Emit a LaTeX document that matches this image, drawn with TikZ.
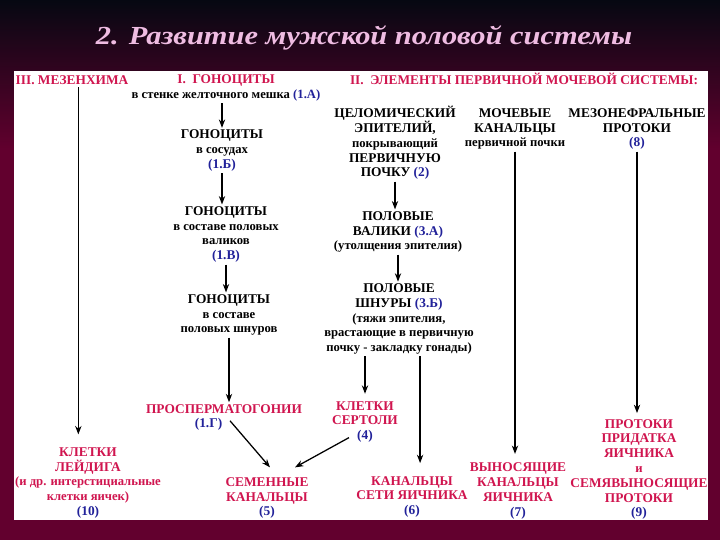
\documentclass[tikz,border=0pt]{standalone}
\usepackage{fontspec}
\setmainfont{Liberation Serif}
\newfontfamily\titlefont[FakeStretch=1.17]{Liberation Serif}
\usetikzlibrary{arrows.meta, calc}
\definecolor{cred}{HTML}{D0154F}
\definecolor{cblue}{HTML}{22229A}
\definecolor{cmaroon}{HTML}{62002E}
\definecolor{cnight}{HTML}{060812}
\definecolor{ctitle}{HTML}{EFBCE2}
\newcommand{\bn}[1]{\textcolor{cblue}{#1}}
\newcommand{\sm}{\fontsize{9}{10.5}\selectfont}
\tikzset{
  every picture/.style={line width=0.9pt},
  txt/.style={align=center, inner sep=1pt, font=\bfseries\fontsize{9.5}{10.5}\selectfont},
  hd/.style={txt, text=cred},
  arr/.style={-{Stealth[length=6pt,width=4.5pt]}, draw=black, line width=0.9pt},
}

\begin{document}
\begin{tikzpicture}[x=0.025cm, y=-0.025cm]
  \useasboundingbox (0,0) rectangle (720,540);
  \fill[cmaroon] (0,0) rectangle (720,540);
  \shade[top color=cnight, bottom color=cmaroon] (0,0) rectangle (720,150);
  \fill[white] (14,71) rectangle (708,520);
  \node[font=\titlefont\bfseries\itshape\fontsize{18.5}{20}\selectfont, text=ctitle] (title) at (364,38) {2. Развитие мужской половой системы};

  % headers
  \node[hd] (mez) at (72,80.5) {III. МЕЗЕНХИМА};
  \node[txt] (gonA) at (226,88) {\textcolor{cred}{I.\ \ ГОНОЦИТЫ}\\ {\sm в стенке желточного мешка \bn{(1.А)}}};
  \node[hd] (elem) at (524,79) {II.\ \ ЭЛЕМЕНТЫ ПЕРВИЧНОЙ МОЧЕВОЙ СИСТЕМЫ:};

  % gonocytes
  \node[txt] (gonB) at (222,150.5) {ГОНОЦИТЫ\\ {\sm в сосудах}\\ \bn{(1.Б)}};
  \node[txt] (gonV) at (226,234.5) {ГОНОЦИТЫ\\ {\sm в составе половых}\\ {\sm валиков}\\ \bn{(1.В)}};
  \node[txt] (gonG) at (229,315) {ГОНОЦИТЫ\\ {\sm в составе}\\ {\sm половых шнуров}};
  \node[hd] (prosp) at (224,417.5) {ПРОСПЕРМАТОГОНИИ\\ \bn{(1.Г)}\hspace*{22pt}};
  \node[hd] (leyd) at (88,483) {КЛЕТКИ\\ ЛЕЙДИГА\\ {\sm (и др. интерстициальные}\\ {\sm клетки яичек)}\\ \bn{(10)}};
  \node[hd] (semen) at (267,498) {СЕМЕННЫЕ\\ КАНАЛЬЦЫ\\ \bn{(5)}};

  % primary kidney
  \node[txt] (coel) at (395,143) {ЦЕЛОМИЧЕСКИЙ\\ ЭПИТЕЛИЙ,\\ {\sm покрывающий}\\ ПЕРВИЧНУЮ\\ ПОЧКУ \bn{(2)}};
  \node[txt] (valik) at (398,232) {ПОЛОВЫЕ\\ ВАЛИКИ \bn{(3.А)}\\ {\sm (утолщения эпителия)}};
  \node[txt] (shnur) at (399,319) {ПОЛОВЫЕ\\ ШНУРЫ \bn{(3.Б)}\\ {\sm (тяжи эпителия,}\\ {\sm врастающие в первичную}\\ {\sm почку - закладку гонады)}};
  \node[hd] (sert) at (365,422) {КЛЕТКИ\\ СЕРТОЛИ\\ \bn{(4)}};
  \node[hd] (seti) at (412,497) {КАНАЛЬЦЫ\\ СЕТИ ЯИЧНИКА\\ \bn{(6)}};
  \node[txt] (moch) at (515,129) {МОЧЕВЫЕ\\ КАНАЛЬЦЫ\\ {\sm первичной почки}};
  \node[hd] (vynos) at (518,491) {ВЫНОСЯЩИЕ\\ КАНАЛЬЦЫ\\ ЯИЧНИКА\\ \bn{(7)}};
  \node[txt] (mezon) at (637,129) {МЕЗОНЕФРАЛЬНЫЕ\\ ПРОТОКИ\\ \bn{(8)}};
  \node[hd] (prot) at (639,469.5) {ПРОТОКИ\\ ПРИДАТКА\\ ЯИЧНИКА\\ {\sm и}\\ СЕМЯВЫНОСЯЩИЕ\\ ПРОТОКИ\\ \bn{(9)}};

  % arrows
  \draw[arr] (gonB.north |- gonA.south) -- (gonB.north);
  \draw[arr] (gonB.south) -- (gonB.south |- gonV.north);
  \draw[arr] (gonV.south) -- (gonV.south |- gonG.north);
  \draw[arr] (gonG.south) -- (gonG.south |- prosp.north);
  \draw[arr, shorten >=8pt] ([xshift=4.5pt]mez.south) -- ([xshift=4.5pt]mez.south |- leyd.north);
  \draw[arr] (coel.south) -- (coel.south |- valik.north);
  \draw[arr] (valik.south) -- (valik.south |- shnur.north);
  \draw[arr, shorten >=4pt] (sert.north |- shnur.south) -- (sert.north);
  \draw[arr, shorten >=8pt] ([xshift=15pt]shnur.south) -- ([xshift=15pt]shnur.south |- seti.north);
  \draw[arr, shorten >=5pt] (moch.south) -- (moch.south |- vynos.north);
  \draw[arr, shorten >=3pt] (mezon.south) -- (mezon.south |- prot.north);
  \draw[arr] ([shift={(6,-12)}]prosp.south) -- ([shift={(3,-8)}]semen.north);
  \draw[arr] ([shift={(-16,-7)}]sert.south) -- ([shift={(28,-8)}]semen.north);
\end{tikzpicture}
\end{document}
